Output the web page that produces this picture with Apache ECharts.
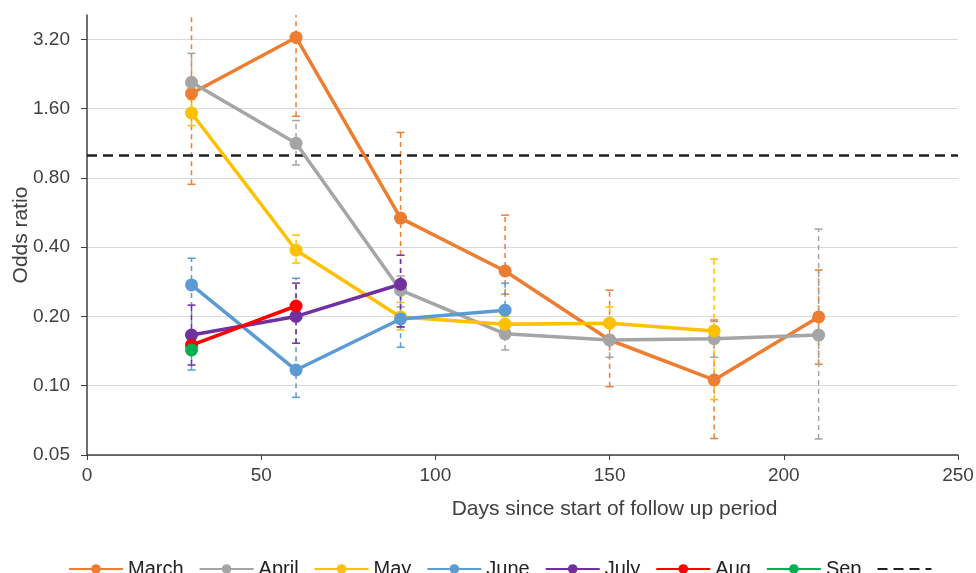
<!DOCTYPE html>
<html>
<head>
<meta charset="utf-8">
<script src="https://cdn.jsdelivr.net/npm/echarts@6/dist/echarts.min.js"></script>
<style>
  html, body { margin: 0; padding: 0; background: #fff; }
  #chart { width: 976px; height: 573px; }
</style>
</head>
<body>
<div id="chart"></div>
<script>
// x positions (days) and y ticks (odds ratio, log2 scale)
var days = [30, 60, 90, 120, 150, 180, 210];
var yTicks = [0.05, 0.1, 0.2, 0.4, 0.8, 1.6, 3.2];
var yMaxOR = 4.08;
var refOR = 1;

// point estimates per start month
var marchOR = [1.86, 3.26, 0.535, 0.315, 0.158, 0.106, 0.199];
var aprilOR = [2.08, 1.13, 0.26, 0.168, 0.158, 0.16, 0.166];
var mayOR = [1.53, 0.388, 0.199, 0.185, 0.187, 0.173];
var juneOR = [0.274, 0.117, 0.195, 0.213];
var julyOR = [0.166, 0.2, 0.276];
var augOR = [0.15, 0.222];
var sepOR = [0.143];

// confidence intervals
var marchLo = [0.75, 1.48, 0.18, 0.25, 0.099, 0.059, 0.124];
var marchHi = [5.0, 5.0, 1.26, 0.551, 0.26, 0.193, 0.318];
var aprilLo = [1.6, 0.91, 0.22, 0.143, 0.133, 0.133, 0.0587];
var aprilHi = [2.78, 1.42, 0.3, 0.2, 0.19, 0.19, 0.479];
var mayLo = [1.35, 0.341, 0.175, 0.17, 0.16, 0.087];
var mayHi = [1.75, 0.451, 0.23, 0.2, 0.22, 0.355];
var juneLo = [0.117, 0.089, 0.147, 0.17];
var juneHi = [0.358, 0.293, 0.25, 0.279];
var julyLo = [0.123, 0.153, 0.18];
var julyHi = [0.224, 0.279, 0.369];

var base = 0.05;
function t(v) { return Math.log2(v / base); }

var textColor = "#404040";

function lineSeries(name, color, vals) {
  return {
    name: name,
    type: "line",
    z: 3,
    symbol: "circle",
    symbolSize: 13,
    color: color,
    lineStyle: { width: 3.5, color: color },
    itemStyle: { color: color },
    data: vals.map(function(v, i) { return [days[i], t(v)]; })
  };
}

function ciSeries(name, color, lo, hi) {
  return {
    name: name + " CI",
    type: "custom",
    z: 1,
    clip: true,
    silent: true,
    encode: { x: 0, y: [1, 2] },
    data: lo.map(function(l, i) { return [days[i], t(l), t(hi[i])]; }),
    renderItem: function(params, api) {
      var p1 = api.coord([api.value(0), api.value(1)]);
      var p2 = api.coord([api.value(0), api.value(2)]);
      var cap = { stroke: color, lineWidth: 1.5 };
      return {
        type: "group",
        children: [
          { type: "line", shape: { x1: p1[0], y1: p1[1], x2: p2[0], y2: p2[1] },
            style: { stroke: color, lineWidth: 1.5, lineDash: [5, 4] } },
          { type: "line", shape: { x1: p1[0] - 4, y1: p1[1], x2: p1[0] + 4, y2: p1[1] }, style: cap },
          { type: "line", shape: { x1: p2[0] - 4, y1: p2[1], x2: p2[0] + 4, y2: p2[1] }, style: cap }
        ]
      };
    }
  };
}

var colors = {
  March: "#ED7D31", April: "#A5A5A5", May: "#FFC000", June: "#5B9BD5",
  July: "#7030A0", Aug: "#FF0000", Sep: "#00B050"
};

var chart = echarts.init(document.getElementById("chart"));
var tickVals = yTicks.map(t);

chart.setOption({
  animation: false,
  textStyle: { fontFamily: "Liberation Sans, Arial, sans-serif" },
  grid: { left: 87, right: 18, top: 15, bottom: 118, outerBoundsMode: "none", containLabel: false },
  legend: {
    left: 63,
    top: 554,
    itemWidth: 54,
    itemHeight: 12,
    itemGap: 15,
    textStyle: { fontSize: 20, color: "#222" },
    data: ["March", "April", "May", "June", "July", "Aug", "Sep",
      { name: " ", itemStyle: { opacity: 0 } }]
  },
  xAxis: {
    type: "value",
    min: 0,
    max: 250,
    interval: 50,
    name: "Days since start of follow up period",
    nameLocation: "middle",
    nameGap: 44,
    nameMoveOverlap: false,
    nameTextStyle: { fontSize: 21, color: textColor, padding: [0, 0, 0, 184] },
    axisLine: { lineStyle: { color: "#404040", width: 1.5 } },
    axisTick: { show: true, length: 5, lineStyle: { color: "#404040" } },
    axisLabel: { fontSize: 19, color: textColor, margin: 11 },
    splitLine: { show: false }
  },
  yAxis: {
    type: "value",
    min: 0,
    max: t(yMaxOR),
    name: "Odds ratio",
    nameLocation: "middle",
    nameGap: 55,
    nameMoveOverlap: false,
    nameTextStyle: { fontSize: 21, color: textColor },
    axisLine: { show: true, lineStyle: { color: "#404040", width: 1.5 } },
    axisTick: { show: true, length: 6, customValues: tickVals, lineStyle: { color: "#404040" } },
    axisLabel: {
      fontSize: 19,
      color: textColor,
      margin: 17,
      customValues: tickVals,
      formatter: function(v) { return (base * Math.pow(2, v)).toFixed(2); }
    },
    splitLine: { show: true, lineStyle: { color: "#D9D9D9", width: 1.2 } }
  },
  series: [
    lineSeries("March", colors.March, marchOR),
    lineSeries("April", colors.April, aprilOR),
    lineSeries("May", colors.May, mayOR),
    lineSeries("June", colors.June, juneOR),
    lineSeries("July", colors.July, julyOR),
    lineSeries("Aug", colors.Aug, augOR),
    lineSeries("Sep", colors.Sep, sepOR),
    {
      name: " ",
      type: "line",
      z: 2,
      symbol: "none",
      color: "#222",
      lineStyle: { color: "#222", width: 2.5, type: [10, 6] },
      data: [[0, t(refOR)], [250, t(refOR)]]
    },
    ciSeries("March", colors.March, marchLo, marchHi),
    ciSeries("April", colors.April, aprilLo, aprilHi),
    ciSeries("May", colors.May, mayLo, mayHi),
    ciSeries("June", colors.June, juneLo, juneHi),
    ciSeries("July", colors.July, julyLo, julyHi)
  ]
});
</script>
</body>
</html>
